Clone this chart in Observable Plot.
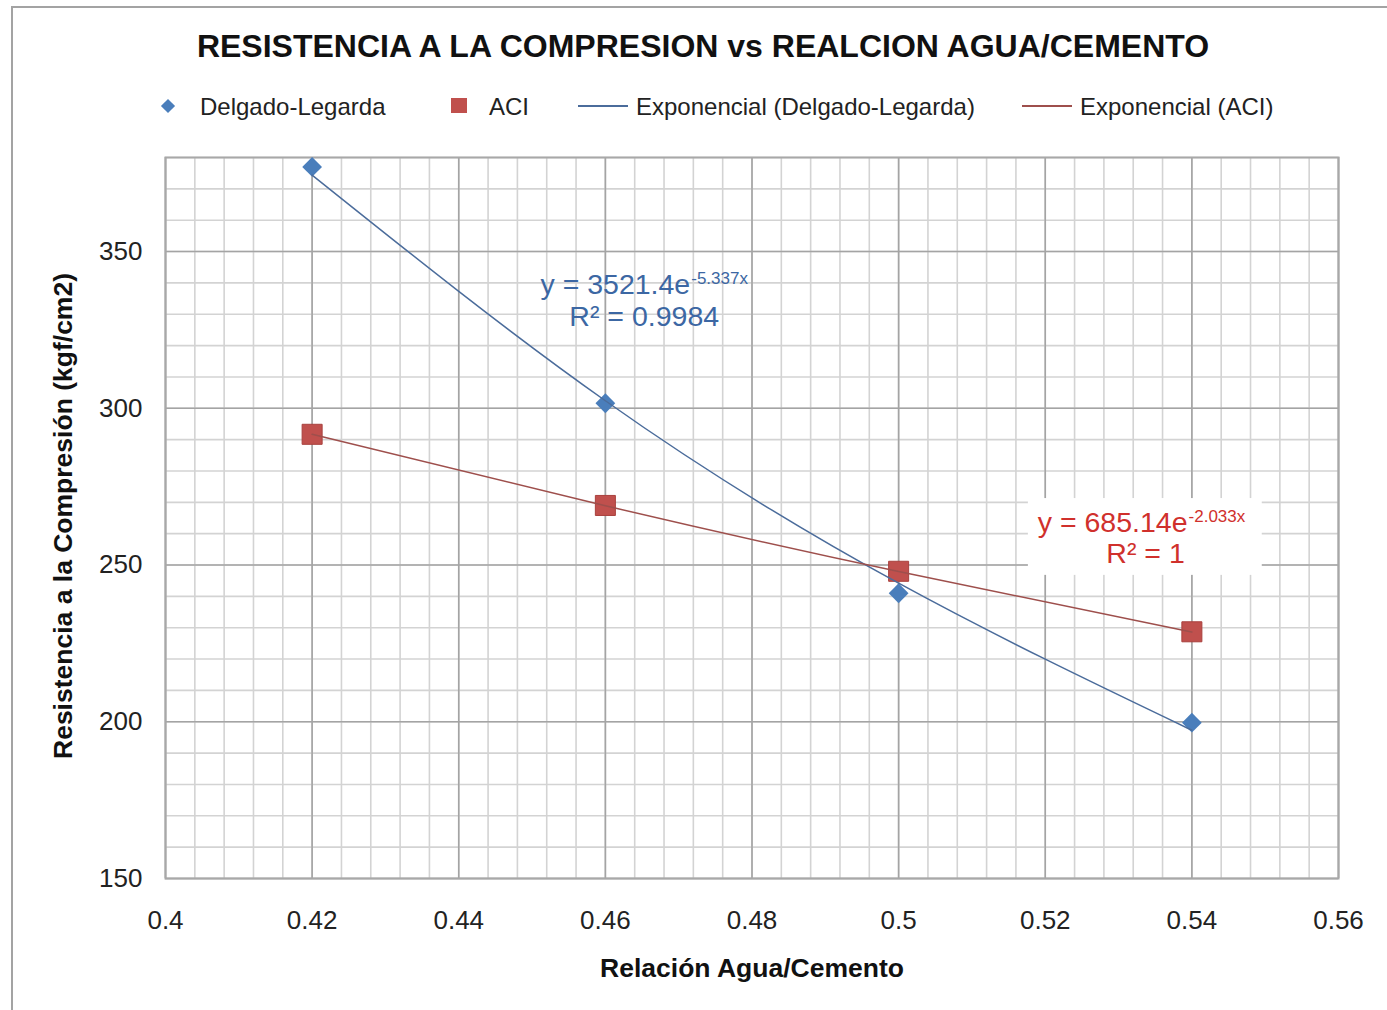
<!DOCTYPE html>
<html><head><meta charset="utf-8">
<script src="https://cdn.jsdelivr.net/npm/d3@7"></script>
<script src="https://cdn.jsdelivr.net/npm/@observablehq/plot@0.6"></script>
<style>
body{margin:0;background:#fff;font-family:"Liberation Sans",Arial,sans-serif;}
#wrap{position:relative;width:1387px;height:1010px;overflow:hidden;background:#fff;}
#frame{position:absolute;left:11px;top:6px;width:1420px;height:1100px;border:2px solid #a3a3a3;box-sizing:border-box;}
#title{position:absolute;left:0;width:1406px;top:30px;line-height:32px;text-align:center;font-weight:bold;font-size:32px;color:#111;white-space:nowrap;}
.leg{position:absolute;top:95px;font-size:24px;line-height:24px;color:#222;white-space:nowrap;}
.mk{position:absolute;}
#chart{position:absolute;left:0;top:130px;}
</style></head>
<body>
<div id="wrap">
  <div id="frame"></div>
  <div id="title">RESISTENCIA A LA COMPRESION vs REALCION AGUA/CEMENTO</div>
  <div class="mk" style="left:163px;top:101px;width:10px;height:10px;background:#4a7ebb;transform:rotate(45deg);"></div>
  <div class="leg" style="left:200px;">Delgado-Legarda</div>
  <div class="mk" style="left:451px;top:98px;width:16px;height:15px;background:#c0504d;"></div>
  <div class="leg" style="left:489px;">ACI</div>
  <div class="mk" style="left:578px;top:105px;width:50px;height:1.5px;background:#4b6c9b;"></div>
  <div class="leg" style="left:636px;">Exponencial (Delgado-Legarda)</div>
  <div class="mk" style="left:1022px;top:105px;width:50px;height:1.5px;background:#9e4f4c;"></div>
  <div class="leg" style="left:1080px;">Exponencial (ACI)</div>
  <div id="chart"></div>
</div>
<script>
// Data
const ratios = [0.42, 0.46, 0.50, 0.54];
const delgadoLegarda = [377, 301.6, 241, 199.7];
const aci = [291.7, 269, 248, 228.7];
const trendDelgado = [374.4, 302.4, 244.2, 197.3];
const trendACI = [291.7, 268.9, 247.9, 228.6];
const xTicks = [0.4, 0.42, 0.44, 0.46, 0.48, 0.5, 0.52, 0.54, 0.56];
const yTicks = [150, 200, 250, 300, 350];
const eqDelgado = {main: "y = 3521.4e", sup: "-5.337x", r2: "R² = 0.9984"};
const eqACI = {main: "y = 685.14e", sup: "-2.033x", r2: "R² = 1"};

const minorX = d3.range(0, 41).map(i => +(0.4 + i * 0.004).toFixed(3));
const minorY = d3.range(0, 24).map(i => 150 + i * 10);

const dl = ratios.map((x, i) => ({x, y: delgadoLegarda[i]}));
const ac = ratios.map((x, i) => ({x, y: aci[i]}));
const tdl = ratios.map((x, i) => ({x, y: trendDelgado[i]}));
const tac = ratios.map((x, i) => ({x, y: trendACI[i]}));

const blue = "#4a7ebb", red = "#c0504d";
const blueTxt = "#3c67a3", redTxt = "#d0302c";

const chart = Plot.plot({
  width: 1387,
  height: 880,
  marginLeft: 165,
  marginRight: 49,
  marginTop: 27,
  marginBottom: 132,
  style: {fontFamily: '"Liberation Sans", Arial, sans-serif', fontSize: "26px", color: "#222", background: "transparent"},
  x: {domain: [0.4, 0.56], ticks: xTicks, tickSize: 0, tickPadding: 32, tickFormat: d => String(d), label: null},
  y: {domain: [150, 380], ticks: yTicks, tickSize: 0, tickPadding: 23, tickFormat: d => String(d), label: null},
  marks: [
    Plot.ruleX(minorX, {stroke: "#d3d3d3", strokeWidth: 1.6}),
    Plot.ruleY(minorY, {stroke: "#d3d3d3", strokeWidth: 1.6}),
    Plot.ruleX(xTicks, {stroke: "#a4a4a4", strokeWidth: 1.6}),
    Plot.ruleY(yTicks, {stroke: "#a4a4a4", strokeWidth: 1.6}),
    Plot.frame({stroke: "#a8a8a8", strokeWidth: 2}),
    Plot.rect([0], {x1: 0.5177, x2: 0.5496, y1: 246.7, y2: 271.2, fill: "white"}),
    Plot.dot(dl, {x: "x", y: "y", symbol: "square", rotate: 45, r: 7.9, fill: blue}),
    Plot.dot(ac, {x: "x", y: "y", symbol: "square", r: 11.3, fill: red, stroke: "#a9413e", strokeWidth: 1}),
    Plot.line(tdl, {x: "x", y: "y", curve: "natural", stroke: "#4b6c9b", strokeWidth: 1.5}),
    Plot.line(tac, {x: "x", y: "y", curve: "natural", stroke: "#9e4f4c", strokeWidth: 1.5}),
    // Delgado-Legarda equation
    Plot.text([eqDelgado.main], {x: 0.4653, y: 336.3, dx: 46, textAnchor: "end", lineAnchor: "bottom", fill: blueTxt, fontSize: 28.5}),
    Plot.text([eqDelgado.sup], {x: 0.4653, y: 336.3, dx: 47, dy: -10, textAnchor: "start", lineAnchor: "bottom", fill: blueTxt, fontSize: 17}),
    Plot.text([eqDelgado.r2], {x: 0.4653, y: 336.3, dy: 32, textAnchor: "middle", lineAnchor: "bottom", fill: blueTxt, fontSize: 28.5}),
    // ACI equation
    Plot.text([eqACI.main], {x: 0.53368, y: 260.4, dx: 42, textAnchor: "end", lineAnchor: "bottom", fill: redTxt, fontSize: 28.5}),
    Plot.text([eqACI.sup], {x: 0.53368, y: 260.4, dx: 43, dy: -10, textAnchor: "start", lineAnchor: "bottom", fill: redTxt, fontSize: 17}),
    Plot.text([eqACI.r2], {x: 0.53368, y: 260.4, dy: 31, textAnchor: "middle", lineAnchor: "bottom", fill: redTxt, fontSize: 28.5}),
    // axis titles
    Plot.text(["Resistencia a la Compresión (kgf/cm2)"], {frameAnchor: "left", textAnchor: "middle", lineAnchor: "middle", rotate: -90, dx: -102, dy: -2, fontWeight: "bold", fontSize: 26.5, fill: "#111"}),
    Plot.text(["Relación Agua/Cemento"], {frameAnchor: "bottom", textAnchor: "middle", dy: 90, fontWeight: "bold", fontSize: 26.5, fill: "#111", lineAnchor: "middle"})
  ]
});
document.getElementById("chart").appendChild(chart);
</script>
</body></html>
